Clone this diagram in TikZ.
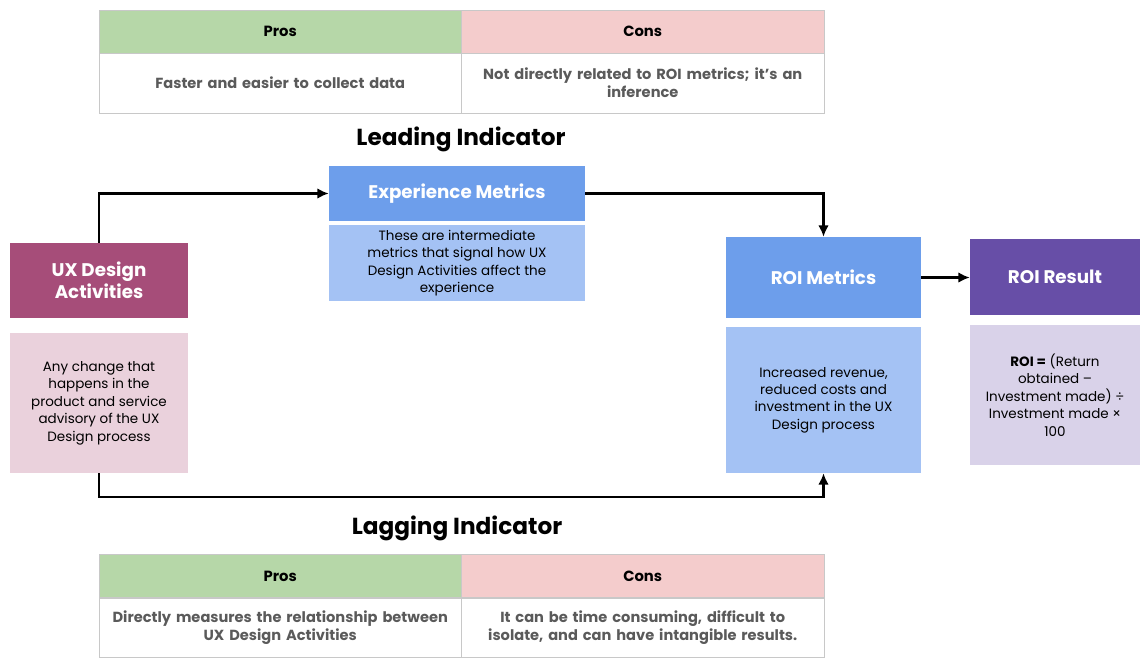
\documentclass[tikz,border=0pt]{standalone}
\usepackage{fontspec}
\setmainfont{Poppins}
\usetikzlibrary{arrows.meta}

\definecolor{prosgreen}{HTML}{B6D7A8}
\definecolor{conspink}{HTML}{F4CCCC}
\definecolor{cellline}{HTML}{C8C8C8}
\definecolor{celltext}{HTML}{5A5A5A}
\definecolor{uxhead}{HTML}{A64D79}
\definecolor{uxbody}{HTML}{EAD1DC}
\definecolor{bluehead}{HTML}{6D9EEB}
\definecolor{bluebody}{HTML}{A4C2F4}
\definecolor{reshead}{HTML}{674EA7}
\definecolor{resbody}{HTML}{D9D2E9}

\begin{document}
\begin{tikzpicture}[x=0.025cm,y=-0.025cm,
  cell/.style={draw=cellline, line width=0.6pt, inner sep=0pt, align=center,
    minimum width=9.06cm, text width=8.8cm},
  headcell/.style={cell, minimum height=1.075cm, font=\fontsize{10.5}{12.5}\selectfont\bfseries},
  bodycell/.style={cell, minimum height=1.5cm, text=celltext,
    font=\fontsize{10.4}{12.6}\selectfont\bfseries},
  boxhead/.style={inner sep=0pt, align=center, text=white,
    font=\fontsize{13}{15.5}\selectfont\bfseries},
  boxbody/.style={inner sep=0pt, align=center, font=\fontsize{9.6}{12.4}\selectfont},
  title/.style={font=\fontsize{16.5}{19}\selectfont\bfseries},
  arr/.style={-{Latex[length=8pt,width=7.5pt]}, line width=1.5pt}]

  \useasboundingbox (0,0) rectangle (1140,658);

  % tabla superior
  \node[headcell, fill=prosgreen] (tpros) at (280.25,31.5) {Pros};
  \node[headcell, fill=conspink] (tcons) at (642.75,31.5) {Cons};
  \node[bodycell] (tprosb) at (280.25,83) {Faster and easier to collect data};
  \node[bodycell] (tconsb) at (642.75,83) {Not directly related to ROI metrics; it's an\\inference};

  \node[title] (leading) at (461,139) {Leading Indicator};

  % cajas
  \node[boxhead, fill=bluehead, minimum width=6.4cm, minimum height=1.375cm] (exphead) at (457,193.5) {Experience Metrics};
  \node[boxbody, fill=bluebody, minimum width=6.4cm, minimum height=1.9cm] (expbody) at (457,263)
    {These are intermediate\\metrics that signal how UX\\Design Activities affect the\\experience};

  \node[boxhead, fill=uxhead, minimum width=4.45cm, minimum height=1.875cm] (uxhead) at (99,280.5) {UX Design\\Activities};
  \node[boxbody, fill=uxbody, minimum width=4.45cm, minimum height=3.5cm] (uxbody) at (99,403)
    {Any change that\\happens in the\\product and service\\advisory of the UX\\Design process};

  \node[boxhead, fill=bluehead, minimum width=4.875cm, minimum height=2.025cm] (roihead) at (823.5,277.5) {ROI Metrics};
  \node[boxbody, fill=bluebody, minimum width=4.875cm, minimum height=3.65cm] (roibody) at (823.5,400)
    {Increased revenue,\\reduced costs and\\investment in the UX\\Design process};

  \node[boxhead, fill=reshead, minimum width=4.25cm, minimum height=1.9cm] (reshead) at (1055,277) {ROI Result};
  \node[boxbody, fill=resbody, minimum width=4.25cm, minimum height=3.5cm] (resbody) at (1055,395)
    {\textbf{ROI =} (Return\\obtained –\\Investment made) ÷\\Investment made ×\\100};

  % flechas
  \draw[arr] (uxhead.north) |- (exphead.west);
  \draw[arr] (exphead.east) -| (roihead.north);
  \draw[arr] (roihead.east) -- (roihead.east -| reshead.west);
  \coordinate (lagturn) at (99,497);
  \draw[arr] (uxbody.south) -- (lagturn) -| (roibody.south);

  \node[title] (lagging) at (457,528) {Lagging Indicator};

  % tabla inferior
  \node[headcell, fill=prosgreen] (bpros) at (280.25,576) {Pros};
  \node[headcell, fill=conspink] (bcons) at (642.75,576) {Cons};
  \node[bodycell, minimum height=1.475cm] (bprosb) at (280.25,627.5) {Directly measures the relationship between\\UX Design Activities};
  \node[bodycell, minimum height=1.475cm] (bconsb) at (642.75,627.5) {It can be time consuming, difficult to\\isolate, and can have intangible results.};
\end{tikzpicture}
\end{document}
